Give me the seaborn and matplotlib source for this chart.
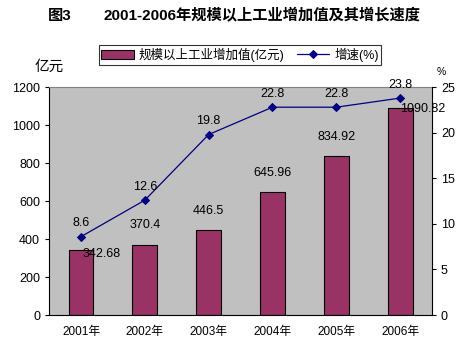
import numpy as np
import pandas as pd
import matplotlib
matplotlib.use("Agg")
import matplotlib.pyplot as plt
import seaborn as sns

years = ["2001年", "2002年", "2003年", "2004年", "2005年", "2006年"]
added_value = [342.68, 370.4, 446.5, 645.96, 834.92, 1090.82]
growth = [8.6, 12.6, 19.8, 22.8, 22.8, 23.8]
value_labels = ["342.68", "370.4", "446.5", "645.96", "834.92", "1090.82"]
growth_labels = ["8.6", "12.6", "19.8", "22.8", "22.8", "23.8"]

sns.set_style("white")
plt.rcParams['font.family'] = ['Liberation Sans', 'Noto Sans CJK SC', 'DejaVu Sans']
plt.rcParams['text.color'] = 'black'
plt.rcParams['axes.labelcolor'] = 'black'
plt.rcParams['xtick.color'] = 'black'
plt.rcParams['ytick.color'] = 'black'

df = pd.DataFrame({"year": years, "value": added_value, "growth": growth})

fig = plt.figure(figsize=(4.68, 3.5), dpi=100)
ax = fig.add_axes([0.105, 0.1, 0.818, 0.651])
ax.set_facecolor("#C0C0C0")

sns.barplot(data=df, x="year", y="value", color="#993366", width=0.39,
            edgecolor="black", linewidth=0.8, saturation=1, ax=ax,
            label="规模以上工业增加值(亿元)")
if ax.get_legend() is not None:
    ax.get_legend().remove()
ax.set_ylim(0, 1200)
ax.set_xlim(-0.5, 5.5)
ax.set_yticks(np.arange(0, 1201, 200))
ax.set_xlabel("")
ax.set_ylabel("")
ax.tick_params(axis='both', labelsize=9, length=3, width=0.8, direction='out', colors='black')
ax.set_xticks(np.arange(6))
ax.set_xticks(np.arange(-0.5, 6, 1), minor=True)
ax.tick_params(axis='x', which='major', length=0, pad=8, labelsize=8.5)
ax.tick_params(axis='x', which='minor', length=3, width=0.8, direction='in')
ax.spines["top"].set_color("#808080")
ax.spines["left"].set_color("black")
ax.spines["bottom"].set_color("black")
ax.spines["right"].set_visible(False)

ax2 = ax.twinx()
sns.lineplot(x=np.arange(6), y=growth, ax=ax2, color="#000080", marker="D",
             markersize=4.5, markeredgecolor="#000080", linewidth=0.9,
             label="增速(%)", legend=False)
ax2.set_ylim(0, 25)
ax2.set_yticks(np.arange(0, 26, 5))
ax2.tick_params(axis='y', labelsize=9, length=3, width=0.8, direction='out', colors='black')
ax2.spines["right"].set_color("black")
ax2.spines["top"].set_visible(False)
ax2.spines["left"].set_visible(False)
ax2.spines["bottom"].set_visible(False)

# value labels
offsets = [(15, -3), (0, 14), (0, 14), (0, 14), (0, 14), (16, -1)]
for i, (v, lab) in enumerate(zip(added_value, value_labels)):
    ax.annotate(lab, (i, v), xytext=offsets[i], textcoords="offset points",
                ha="center", va="center", fontsize=9)
for i, (g, lab) in enumerate(zip(growth, growth_labels)):
    ax2.annotate(lab, (i, g), xytext=(0, 9.5), textcoords="offset points",
                 ha="center", va="center", fontsize=9)

fig.text(0.105, 0.81, "亿元", fontsize=10.5, ha="center", va="center")
fig.text(0.943, 0.793, "%", fontsize=7.5, ha="center", va="center")

fig.text(0.103, 0.955, "图3", fontsize=11, fontweight="bold", ha="left", va="center")
fig.text(0.56, 0.955, "2001-2006年规模以上工业增加值及其增长速度", fontsize=11,
         fontweight="bold", ha="center", va="center")

h1, l1 = ax.get_legend_handles_labels()
h2, l2 = ax2.get_legend_handles_labels()
leg = fig.legend(h1 + h2, l1 + l2, loc="center", bbox_to_anchor=(0.513, 0.843),
                 ncol=2, fontsize=9, frameon=True, fancybox=False, edgecolor="black",
                 handlelength=2.6, handleheight=0.8, columnspacing=1.0,
                 borderpad=0.2, handletextpad=0.4)
leg.get_frame().set_linewidth(0.8)

fig.savefig("out.png", dpi=100)
